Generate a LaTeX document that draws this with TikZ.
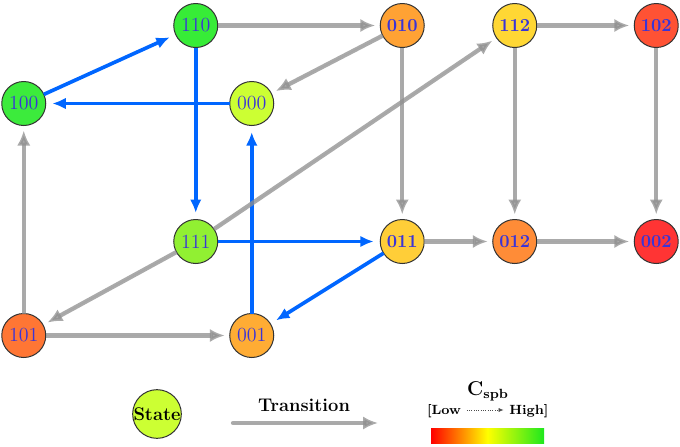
\documentclass[tikz,border=0pt]{standalone}
\usepackage{amsmath}
\usepackage{tikz}
\usetikzlibrary{matrix, arrows.meta}

\definecolor{lblue}{RGB}{58,52,215}
\definecolor{pblue}{RGB}{0,102,255}
\definecolor{c110}{RGB}{55,236,55}
\definecolor{c100}{RGB}{60,235,60}
\definecolor{c000}{RGB}{204,255,51}
\definecolor{c111}{RGB}{145,240,50}
\definecolor{c010}{RGB}{255,162,52}
\definecolor{c112}{RGB}{255,215,52}
\definecolor{c102}{RGB}{255,82,52}
\definecolor{c011}{RGB}{255,206,56}
\definecolor{c012}{RGB}{255,140,55}
\definecolor{c002}{RGB}{255,52,52}
\definecolor{c101}{RGB}{255,118,52}
\definecolor{c001}{RGB}{255,172,52}
\definecolor{cgreen}{RGB}{30,232,30}

\begin{document}
\begin{tikzpicture}[x=0.6pt, y=-0.6pt,
  st/.style = {draw=black!80, circle, line width=0.6pt, inner sep=0pt, outer sep=0pt, minimum size=26.4pt, text=lblue, font=\large},
  stb/.style = {st, font=\fontsize{11}{13}\selectfont\bfseries},
  trans/.style = {draw=black!44, fill=black!44, opacity=0.76, line width=2.6pt, -{Latex[length=9pt,width=8pt]}, shorten >=3pt},
  best/.style = {draw=pblue, fill=pblue, line width=2.2pt, -{Latex[length=8pt,width=7pt]}, shorten >=4pt}]
\useasboundingbox (0,0) rectangle (680,447);
\matrix (m) at (340,180.5) [column sep=0pt, row sep=0pt, inner sep=0pt]{
 &[76.2pt] \node[st,fill=c110](s110){110}; &[6.6pt] &[63.3pt] \node[stb,fill=c010](s010){010}; &[40.5pt] \node[stb,fill=c112](s112){112}; &[57.9pt] \node[stb,fill=c102](s102){102}; \\[19.8pt]
\node[st,fill=c100](s100){100}; & & \node[st,fill=c000](s000){000}; \\[55.8pt]
 & \node[st,fill=c111](s111){111}; & & \node[stb,fill=c011](s011){011}; & \node[stb,fill=c012](s012){012}; & \node[stb,fill=c002](s002){002}; \\[29.4pt]
\node[st,fill=c101](s101){101}; & & \node[st,fill=c001](s001){001}; \\
};
% best path
\draw[best] (s100) -- (s110);
\draw[best] (s000) -- (s100);
\draw[best] (s110) -- (s111);
\draw[best] (s001) -- (s000);
\draw[best] (s111) -- (s011);
\draw[best] (s011) -- (s001);
% other transitions
\draw[trans] (s110) -- (s010);
\draw[trans] (s010) -- (s000);
\draw[trans] (s010) -- (s011);
\draw[trans] (s112) -- (s102);
\draw[trans] (s112) -- (s012);
\draw[trans] (s102) -- (s002);
\draw[trans] (s011) -- (s012);
\draw[trans] (s012) -- (s002);
\draw[trans] (s111) -- (s112);
\draw[trans] (s111) -- (s101);
\draw[trans] (s101) -- (s100);
\draw[trans] (s101) -- (s001);
% legend
\node[st, fill=c000, text=black, font=\fontsize{11}{13}\selectfont\bfseries, minimum size=28.8pt] (legstate) at (157,414) {State};
\coordinate (ta) at (233,423);
\coordinate (tb) at (378,423);
\draw[trans, line cap=round, shorten >=0pt] (ta) -- (tb);
\node[font=\fontsize{11}{13}\selectfont\bfseries] (legtrans) at (304,405) {Transition};
\node[font=\large\bfseries] (cspb) at (488,391) {$\mathbf{C}_{\mathbf{spb}}$};
\node[font=\footnotesize\bfseries, text height=1.5ex, text depth=.25ex] (low) at (444,410) {[Low};
\node[font=\footnotesize\bfseries, text height=1.5ex, text depth=.25ex] (high) at (529,410) {High]};
\draw[black!70, densely dotted, -{Latex[length=3pt,width=2.5pt]}] (low) -- (high);
\shade[left color=red, right color=cgreen, middle color=yellow] (431,428) rectangle (544,443);
\end{tikzpicture}
\end{document}
